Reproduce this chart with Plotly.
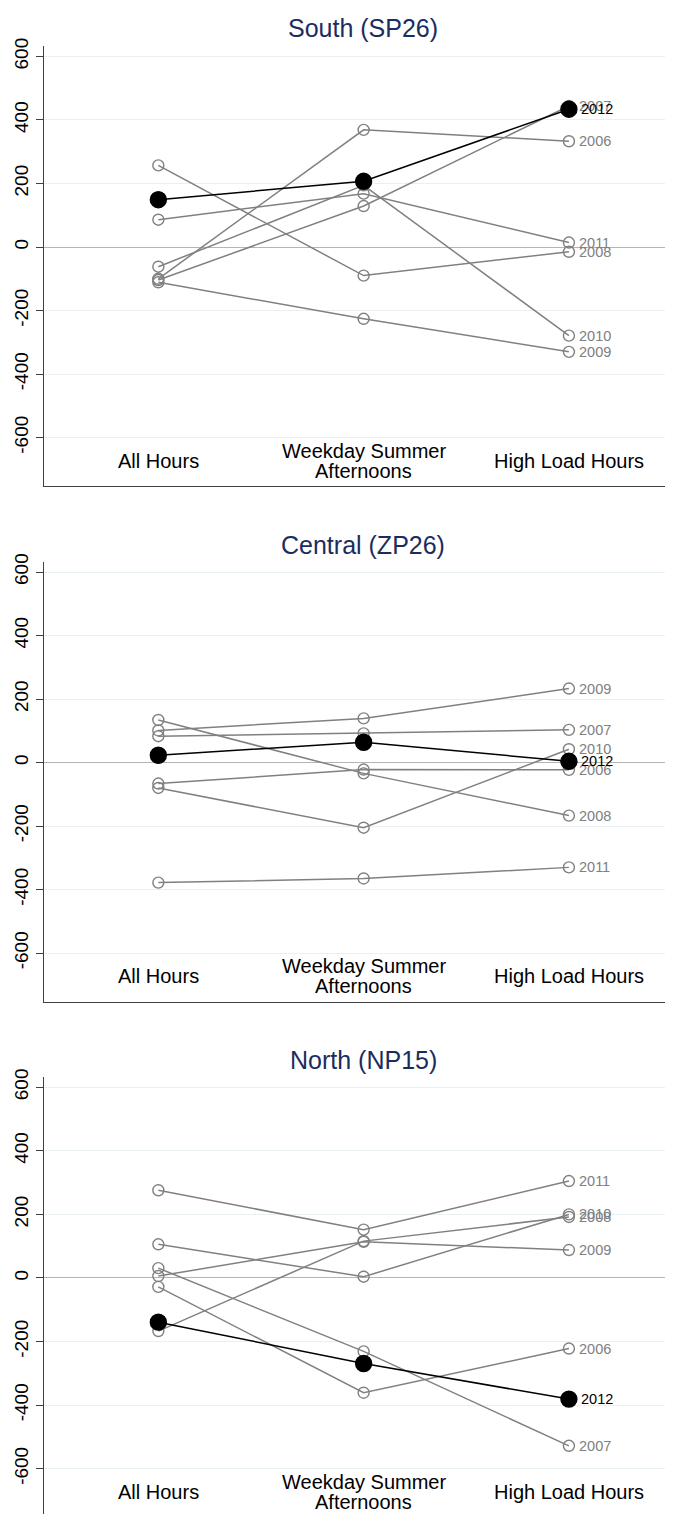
import plotly.graph_objects as go

# ---------------- data ----------------
categories = ["All Hours", "Weekday Summer<br>Afternoons", "High Load Hours"]
years = ["2006", "2007", "2008", "2009", "2010", "2011", "2012"]
panel_titles = ["South (SP26)", "Central (ZP26)", "North (NP15)"]
y_ticks = [-600, -400, -200, 0, 200, 400, 600]

# values per year (same order as `years`), one list per category
south_values = [
    [-100, 369, 333],   # 2006
    [-104, 129, 444],   # 2007
    [257, -90, -15],    # 2008
    [-111, -226, -330], # 2009
    [-62, 194, -279],   # 2010
    [86, 168, 14],      # 2011
    [149, 207, 434],    # 2012
]
central_values = [
    [-66, -22, -23],    # 2006
    [83, 92, 103],      # 2007
    [134, -34, -167],   # 2008
    [101, 139, 233],    # 2009
    [-80, -205, 42],    # 2010
    [-378, -365, -330], # 2011
    [23, 64, 4],        # 2012
]
north_values = [
    [-28, -361, -222],  # 2006
    [31, -231, -528],   # 2007
    [-167, 116, 192],   # 2008
    [6, 114, 88],       # 2009
    [106, 4, 200],      # 2010
    [276, 152, 305],    # 2011
    [-139, -269, -381], # 2012
]
panels = [south_values, central_values, north_values]

# ---------------- style ----------------
OFF = 8  # page body margin of the html page
W, H = 673 - OFF, 1514 - OFF
GRAY = "#808080"
TITLE_COLOR = "#1b2d5e"
GRID = "#e9f0f2"
FONT = "Liberation Sans, Arial, sans-serif"
# pixel geometry of panels (top, bottom) in page pixels, and y ranges
panel_px = [(38.3, 481.0), (556.6, 999.3), (1074.6, 1514.0)]
y_ranges = [[-754, 632.5], [-754, 632.5], [-742.5, 632.5]]
title_px = [20, 540, 1058]
x_range = [-0.557, 2.507]
LINE_GAP = 20  # px between lines of a wrapped category label

fig = go.Figure()
annotations = []
layout = {}

for p, vals in enumerate(panels):
    sfx = "" if p == 0 else str(p + 1)
    xa, ya = "x" + sfx, "y" + sfx
    xs = list(range(len(categories)))
    for yi, year in enumerate(years):
        is_last = year == "2012"
        fig.add_trace(go.Scatter(
            x=xs, y=vals[yi], xaxis=xa, yaxis=ya,
            mode="lines+markers",
            line=dict(color="black" if is_last else GRAY, width=1.5),
            marker=dict(
                symbol="circle" if is_last else "circle-open",
                size=16 if is_last else 11,
                color="black" if is_last else GRAY,
                line=dict(width=1.4, color="black" if is_last else GRAY),
            ),
            showlegend=False, hoverinfo="skip",
        ))
        annotations.append(dict(
            x=xs[-1], y=vals[yi][-1], xref=xa, yref=ya,
            text=year, showarrow=False, xanchor="left", yanchor="middle",
            xshift=8 if not is_last else 10,
            font=dict(size=14.5, color="black" if is_last else GRAY, family=FONT),
        ))
    # category labels (wrapped labels drawn line by line with tight spacing)
    for ci, cat in enumerate(categories):
        lines = cat.split("<br>")
        n = len(lines)
        for li, line in enumerate(lines):
            annotations.append(dict(
                x=ci, y=-673, xref=xa, yref=ya, text=line, showarrow=False,
                xanchor="center", yanchor="middle",
                yshift=((n - 1) / 2 - li) * LINE_GAP,
                font=dict(size=20, color="black", family=FONT),
            ))
    top, bot = panel_px[p]
    top, bot = top - OFF, bot - OFF
    dom = [max(0.0, 1 - bot / H), min(1.0, 1 - top / H)]
    layout["xaxis" + sfx] = dict(
        domain=[0, 1], range=x_range, anchor=ya, showgrid=False,
        zeroline=False, showticklabels=False, ticks="",
        showline=(p < 2), linecolor="#404040", linewidth=1.3,
    )
    layout["yaxis" + sfx] = dict(
        domain=dom, range=y_ranges[p], anchor=xa,
        tickvals=y_ticks, ticktext=[str(t) for t in y_ticks],
        tickangle=-90, ticks="outside", ticklen=7, tickwidth=1.2,
        tickcolor="#404040",
        tickfont=dict(size=19, color="black", family=FONT),
        showgrid=True, gridcolor=GRID, gridwidth=1.3,
        zeroline=True, zerolinecolor="#b5b5b5", zerolinewidth=1.4,
        showline=True, linecolor="#404040", linewidth=1.3,
    )
    annotations.append(dict(
        x=(363 - 44) / (673 - 44), y=1 - (title_px[p] - OFF) / H,
        xref="paper", yref="paper",
        text=panel_titles[p], showarrow=False, xanchor="center", yanchor="middle",
        font=dict(size=25, color=TITLE_COLOR, family=FONT),
    ))

fig.update_layout(
    width=W, height=H,
    margin=dict(l=44 - OFF, r=0, t=0, b=0),
    paper_bgcolor="white", plot_bgcolor="white",
    annotations=annotations,
    **layout,
)

fig.write_html("out.html")
